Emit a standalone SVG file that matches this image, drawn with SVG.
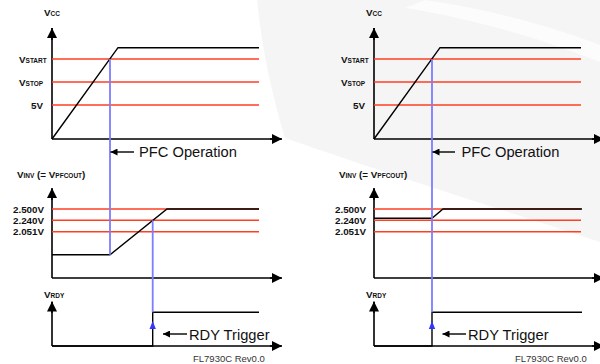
<svg xmlns="http://www.w3.org/2000/svg" width="600" height="364" viewBox="0 0 600 364">
<defs>
<style>
.ax{stroke:#000;stroke-width:1.6;fill:none}
.sig{stroke:#000;stroke-width:1.4;fill:none}
.red{stroke:#ff3f22;stroke-width:1.4;fill:none}
.blu{stroke:#7d7dff;stroke-width:1.8;fill:none}
.lb{font-family:"Liberation Sans",Arial,sans-serif;font-weight:bold;font-size:9.8px;fill:#111}
.sb{font-size:6.5px}
.big{font-family:"Liberation Sans",Arial,sans-serif;font-size:14.7px;fill:#111}
.ft{font-family:"Liberation Sans",Arial,sans-serif;font-size:9.5px;fill:#333}
</style>
<marker id="ah" viewBox="0 0 10 10" refX="10" refY="5" markerWidth="10" markerHeight="10" markerUnits="userSpaceOnUse" orient="auto"><path d="M0,0 L10,5 L0,10 Z" fill="#000"/></marker>
<marker id="sa" viewBox="0 0 10 10" refX="10" refY="5" markerWidth="8" markerHeight="7" markerUnits="userSpaceOnUse" orient="auto"><path d="M0,0 L10,5 L0,10 Z" fill="#000"/></marker>
<g id="panel">
<path class="ax" d="M52,139 V28 M52,139 H281"/>
<path class="ax" d="M52,40 V28" marker-end="url(#ah)"/>
<path class="ax" d="M270,139 H282" marker-end="url(#ah)"/>
<path class="red" d="M52,59 H259 M52,82 H259 M52,105 H259"/>
<path class="sig" d="M52,139 L118,47.7 H259"/>
<text class="lb" x="44" y="16">V<tspan class="sb">CC</tspan></text>
<text class="lb" x="19" y="62.5">V<tspan class="sb">START</tspan></text>
<text class="lb" x="19" y="85.5">V<tspan class="sb">STOP</tspan></text>
<text class="lb" x="31" y="108.5">5V</text>
<path class="ax" d="M52,278 V189 M52,278 H281"/>
<path class="ax" d="M52,200 V188" marker-end="url(#ah)"/>
<path class="ax" d="M270,278 H282" marker-end="url(#ah)"/>
<path class="red" d="M52,209 H259 M52,220.3 H259 M52,231.7 H259"/>
<text class="lb" x="17" y="178">V<tspan class="sb">INV</tspan> (= V<tspan class="sb">PFCOUT</tspan>)</text>
<text class="lb" x="13" y="212.5">2.500V</text>
<text class="lb" x="13" y="223.8">2.240V</text>
<text class="lb" x="13" y="235.2">2.051V</text>
<path class="ax" d="M52,346 V302 M52,346 H281"/>
<path class="ax" d="M52,313 V301.5" marker-end="url(#ah)"/>
<path class="ax" d="M270,346 H282" marker-end="url(#ah)"/>
<text class="lb" x="44" y="297.5">V<tspan class="sb">RDY</tspan></text>
<text class="ft" x="193" y="361.5">FL7930C Rev0.0</text>
</g>
</defs>
<rect width="600" height="364" fill="#fff"/>
<g id="watermark">
<path d="M257,0 H600 V242 C520,215 420,185 285,138 C272,95 262,50 257,0 Z" fill="#f5f5f5"/>
<path d="M425,0 C480,8 540,22 600,45 V62 C540,38 470,18 405,8 Z" fill="#fcfcfc"/>
</g>
<g id="left-chart">
<use href="#panel"/>
<path class="sig" d="M52,254.7 H110 L167,209 H259"/>
<path class="sig" d="M52,346 H152.7 V312.3 H259"/>
</g>
<g id="right-chart">
<use href="#panel" transform="translate(322,0)"/>
<path class="sig" d="M374,218.3 H432 L443,209 H582"/>
<path class="sig" d="M374,346 H432 V312.3 H582"/>
</g>
<g id="connectors">
<path class="blu" d="M110,59 V254.7"/>
<path class="blu" d="M152.7,220.3 V312.3"/>
<path d="M149.5,329 L152.7,321 L155.9,329 Z" fill="#3535ff"/>
<path class="blu" d="M432,59 V312.3"/>
<path d="M428.8,329 L432,321 L435.2,329 Z" fill="#3535ff"/>
<path class="sig" d="M134,152 H110.5" marker-end="url(#sa)"/>
<path class="sig" d="M455,152 H432.5" marker-end="url(#sa)"/>
<path class="sig" d="M187,334 H163" marker-end="url(#sa)"/>
<path class="sig" d="M466,334 H442.5" marker-end="url(#sa)"/>
</g>
<g id="labels">
<text class="big" x="139" y="157">PFC Operation</text>
<text class="big" x="461.5" y="157">PFC Operation</text>
<text class="big" x="189" y="339.5">RDY Trigger</text>
<text class="big" x="468" y="339.5">RDY Trigger</text>
</g>
</svg>
